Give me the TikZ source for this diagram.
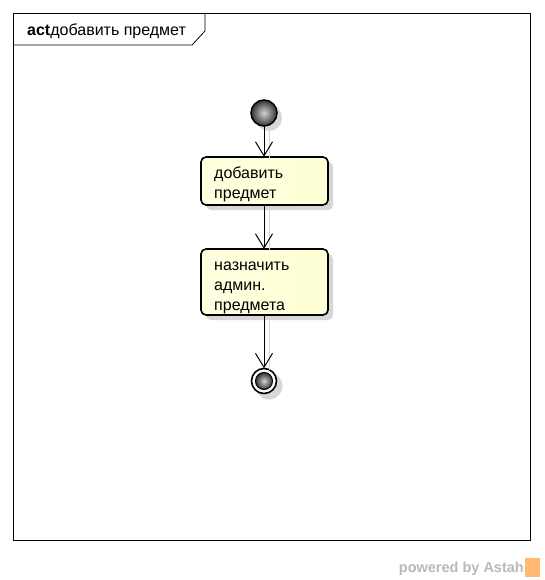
\documentclass[tikz,border=0pt]{standalone}
\usepackage{fontspec}
\setmainfont{Liberation Sans}
\usetikzlibrary{arrows.meta,shadows}
\definecolor{shd}{RGB}{215,215,215}
\definecolor{actfill}{RGB}{255,255,212}
\tikzset{
  actbox/.style={draw=black, line width=1.6pt, rounded corners=5pt, inner sep=0pt,
    left color=white!30!actfill, right color=actfill,
    drop shadow={shadow xshift=5pt, shadow yshift=-5pt, fill=shd, opacity=1}},
  flow/.style={draw=black, line width=1pt, -{Straight Barb[length=14pt,width=17pt,line width=1pt]}},
  flowshadow/.style={draw=shd, line width=1pt},
  lbl/.style={font=\fontsize{16}{20}\selectfont, align=left, anchor=north west, inner sep=0pt},
}
\newcommand{\topstrut}{\rule{0pt}{12pt}}
\begin{document}
\begin{tikzpicture}[x=1pt,y=-1pt]
\useasboundingbox (0,0) rectangle (544,580);
\fill[white] (0,0) rectangle (544,580);
% frame
\draw[black, line width=0.8pt] (13,13) rectangle (530,540);
\draw[black, line width=0.8pt] (13,45) -- (192,45) -- (205,31) -- (205,13);
\node[anchor=base west, inner sep=0pt, font=\fontsize{16}{18}\selectfont] (title) at (27,36) {\textbf{act}добавить предмет};
% start
\fill[shd] (269,118) circle (13);
\shade[inner color=gray!35, outer color=black!80, draw=black, line width=1.5pt] (264,113) circle (13);
\node[circle, minimum size=26pt, inner sep=0pt] (startn) at (264,113) {};
% action 1
\path[actbox] (201,157) rectangle (328,205);
\node[inner sep=0pt, minimum width=127pt, minimum height=48pt] (a1) at (264.5,181) {};
\node[lbl] (a1t) at (214,166) {\topstrut добавить\\предмет};
% action 2
\path[actbox] (201,249) rectangle (328,315);
\node[inner sep=0pt, minimum width=127pt, minimum height=66pt] (a2) at (264.5,282) {};
\node[lbl] (a2t) at (214,258) {\topstrut назначить\\админ.\\предмета};
% end
\fill[shd] (269,386) circle (13.5);
\draw[black, line width=1.6pt, fill=white] (264,381) circle (12.5);
\shade[inner color=gray!35, outer color=black!80, draw=black, line width=1pt] (264,381) circle (8.5);
\node[circle, minimum size=25pt, inner sep=0pt] (endn) at (264,381) {};
% edge shadows
\draw[flowshadow] (269,128) -- (269,158);
\draw[flowshadow] (269,208) -- (269,250);
\draw[flowshadow] (269,318) -- (269,370);
% edges
\draw[flow] (startn.south) -- (startn.south |- a1.north);
\draw[flow] (a1.south -| startn.south) -- (startn.south |- a2.north);
\draw[flow] (a2.south -| startn.south) -- (endn.north);
% watermark
\node[anchor=base east, inner sep=0pt, text=gray!55, font=\bfseries\fontsize{14.5}{16}\selectfont] (wm) at (524,572) {powered by Astah};
\fill[orange!55] (525,558) rectangle (540,577);
\end{tikzpicture}
\end{document}
